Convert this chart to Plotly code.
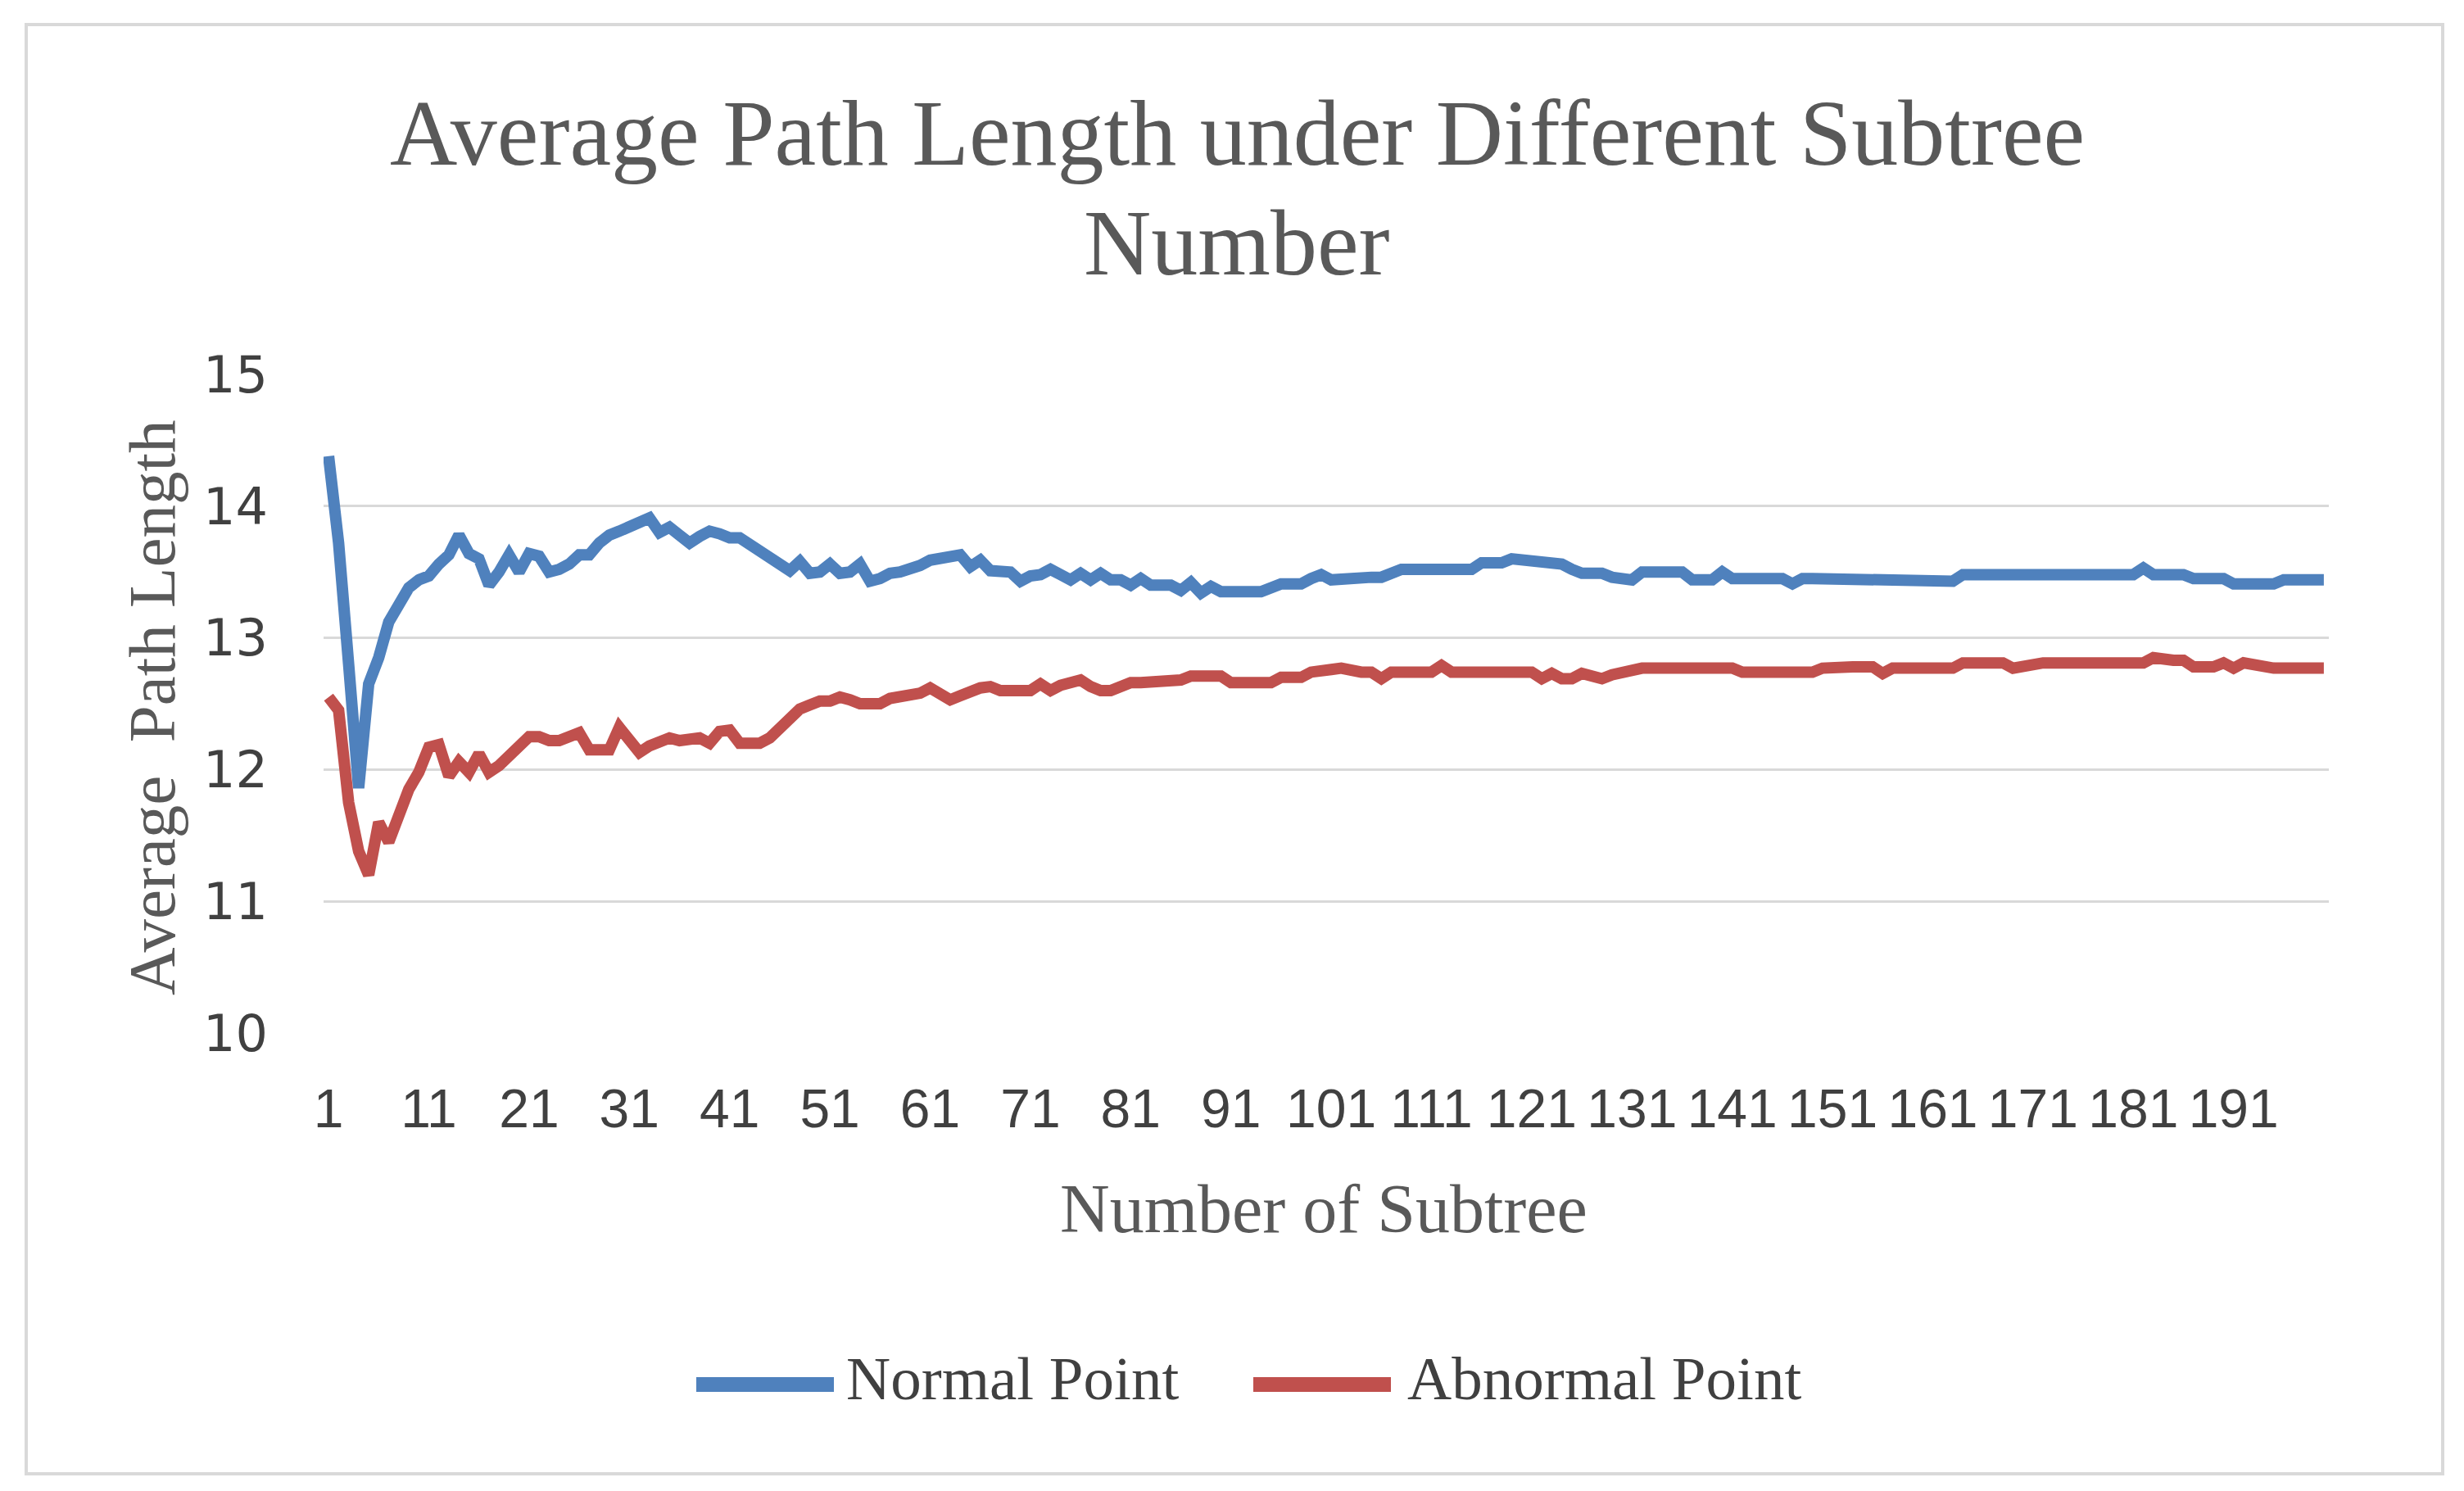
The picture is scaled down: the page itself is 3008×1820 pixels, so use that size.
import plotly.graph_objects as go

# ---------------- data ----------------
subtree_num = list(range(1, 201))

normal_point = [
    14.38, 13.72, 12.80, 11.86, 12.65, 12.85, 13.12, 13.25, 13.38, 13.44,
    13.47, 13.56, 13.63, 13.78, 13.64, 13.60, 13.40, 13.50, 13.63, 13.50,
    13.64, 13.62, 13.50, 13.52, 13.56, 13.63, 13.63, 13.72, 13.78, 13.81,
    13.85, 13.89, 13.91, 13.80, 13.84, 13.78, 13.72, 13.77, 13.81, 13.79,
    13.76, 13.76, 13.71, 13.67, 13.60, 13.55, 13.51, 13.58, 13.49, 13.50,
    13.56, 13.49, 13.50, 13.56, 13.43, 13.45, 13.49, 13.50, 13.52, 13.55,
    13.59, 13.61, 13.62, 13.63, 13.54, 13.59, 13.51, 13.51, 13.50, 13.43,
    13.47, 13.48, 13.52, 13.48, 13.44, 13.49, 13.44, 13.49, 13.44, 13.44,
    13.40, 13.45, 13.40, 13.40, 13.40, 13.36, 13.42, 13.34, 13.39, 13.35,
    13.35, 13.35, 13.35, 13.35, 13.38, 13.41, 13.41, 13.41, 13.45, 13.48,
    13.44, 13.45, 13.46, 13.46, 13.46, 13.46, 13.49, 13.52, 13.52, 13.52,
    13.52, 13.52, 13.52, 13.52, 13.52, 13.57, 13.57, 13.57, 13.60, 13.59,
    13.57, 13.57, 13.57, 13.56, 13.52, 13.49, 13.49, 13.49, 13.46, 13.44,
    13.44, 13.50, 13.50, 13.50, 13.50, 13.50, 13.44, 13.44, 13.44, 13.50,
    13.45, 13.45, 13.45, 13.45, 13.45, 13.45, 13.41, 13.45, 13.45, 13.45,
    13.45, 13.45, 13.45, 13.45, 13.45, 13.43, 13.43, 13.43, 13.43, 13.43,
    13.43, 13.43, 13.43, 13.48, 13.48, 13.48, 13.48, 13.48, 13.48, 13.48,
    13.48, 13.48, 13.48, 13.48, 13.48, 13.48, 13.48, 13.48, 13.48, 13.48,
    13.48, 13.53, 13.48, 13.48, 13.48, 13.48, 13.45, 13.45, 13.45, 13.45,
    13.41, 13.41, 13.41, 13.41, 13.41, 13.44, 13.44, 13.44, 13.44, 13.44,
]

abnormal_point = [
    12.55, 12.45, 11.75, 11.38, 11.20, 11.60, 11.45, 11.68, 11.85, 11.98,
    12.17, 12.19, 11.95, 12.06, 11.98, 12.12, 11.98, 12.03, 12.10, 12.18,
    12.25, 12.25, 12.22, 12.22, 12.25, 12.28, 12.15, 12.15, 12.15, 12.32,
    12.22, 12.13, 12.18, 12.20, 12.24, 12.22, 12.22, 12.24, 12.20, 12.29,
    12.30, 12.20, 12.20, 12.20, 12.24, 12.31, 12.38, 12.46, 12.49, 12.52,
    12.52, 12.55, 12.53, 12.50, 12.50, 12.50, 12.54, 12.55, 12.58, 12.58,
    12.62, 12.57, 12.53, 12.56, 12.60, 12.62, 12.63, 12.60, 12.60, 12.60,
    12.60, 12.65, 12.60, 12.64, 12.65, 12.68, 12.63, 12.60, 12.60, 12.63,
    12.66, 12.66, 12.66, 12.66, 12.66, 12.68, 12.71, 12.71, 12.71, 12.71,
    12.66, 12.66, 12.66, 12.66, 12.66, 12.70, 12.70, 12.70, 12.74, 12.74,
    12.76, 12.77, 12.75, 12.74, 12.74, 12.69, 12.74, 12.74, 12.74, 12.74,
    12.74, 12.79, 12.74, 12.74, 12.74, 12.74, 12.74, 12.74, 12.74, 12.74,
    12.74, 12.69, 12.73, 12.69, 12.69, 12.73, 12.71, 12.69, 12.72, 12.74,
    12.77, 12.77, 12.77, 12.77, 12.77, 12.77, 12.77, 12.77, 12.77, 12.77,
    12.77, 12.74, 12.74, 12.74, 12.74, 12.74, 12.74, 12.74, 12.74, 12.77,
    12.78, 12.78, 12.78, 12.78, 12.78, 12.73, 12.77, 12.77, 12.77, 12.77,
    12.77, 12.77, 12.77, 12.81, 12.81, 12.81, 12.81, 12.81, 12.77, 12.79,
    12.81, 12.81, 12.81, 12.81, 12.81, 12.81, 12.81, 12.81, 12.81, 12.81,
    12.81, 12.81, 12.85, 12.83, 12.83, 12.83, 12.78, 12.78, 12.78, 12.81,
    12.77, 12.81, 12.79, 12.77, 12.77, 12.77, 12.77, 12.77, 12.77, 12.77,
]

x_tick_vals = list(range(1, 200, 10))
x_tick_text = [str(v) for v in x_tick_vals]
y_tick_vals = [10, 11, 12, 13, 14, 15]

series_names = ["Normal Point", "Abnormal Point"]
series_colors = ["#4F81BD", "#C0504D"]

# ---------------- figure ----------------
W, H = 3008, 1820
OFF = 8  # default page margin of the html body
# plot area in screen pixels
SL, SR, ST, SB = 395, 2843, 457, 1261
L, R, T, B = SL - OFF, SR - OFF, ST - OFF, SB - OFF  # in figure pixels

def px(xs):
    return (xs - SL) / (SR - SL)

def py(ys):
    return (SB - ys) / (SB - ST)

text_color = "#595959"
tick_color = "#404040"
serif = "Liberation Serif, Times New Roman, serif"

fig = go.Figure()
for name, vals, col in zip(series_names, [normal_point, abnormal_point], series_colors):
    fig.add_trace(go.Scatter(
        x=subtree_num, y=vals, mode="lines", name=name,
        line=dict(color=col, width=14), showlegend=False,
    ))

fig.update_layout(
    width=W, height=H,
    margin=dict(l=L, r=W - R, t=T, b=H - B, pad=0),
    paper_bgcolor="white", plot_bgcolor="white",
    xaxis=dict(
        range=[0.5, 200.5], tickmode="array", tickvals=x_tick_vals, ticktext=x_tick_text,
        showgrid=False, zeroline=False, showline=False, ticks="",
        tickfont=dict(family="Liberation Sans, Arial, sans-serif", size=66, color=tick_color),
        ticklabelstandoff=48,
    ),
    yaxis=dict(
        range=[10, 15], tickmode="array", tickvals=y_tick_vals,
        showgrid=True, gridcolor="#D9D9D9", gridwidth=3,
        zeroline=False, showline=False, ticks="",
        tickfont=dict(family="DejaVu Sans, sans-serif", size=62, color=tick_color),
        ticklabelstandoff=67,
    ),
)

annotations = [
    dict(text="Average Path Length under Different Subtree", x=px(1510), y=py(163),
         font=dict(family=serif, size=114, color=text_color)),
    dict(text="Number", x=px(1510), y=py(296),
         font=dict(family=serif, size=114, color=text_color)),
    dict(text="Number of Subtree", x=px(1616), y=py(1475),
         font=dict(family=serif, size=84, color=text_color)),
    dict(text="Average  Path Length", x=px(186), y=py(864), textangle=-90,
         font=dict(family=serif, size=81, color=text_color)),
    dict(text=series_names[0], x=px(1031), y=py(1682), xanchor="left",
         font=dict(family=serif, size=75, color=tick_color)),
    dict(text=series_names[1], x=px(1716), y=py(1682), xanchor="left",
         font=dict(family=serif, size=75, color=tick_color)),
]
for a in annotations:
    a.setdefault("xanchor", "center")
    a.update(xref="paper", yref="paper", yanchor="middle", showarrow=False)
    fig.add_annotation(**a)

shapes = [
    dict(type="rect", x0=px(32), x1=px(2982), y0=py(30), y1=py(1799),
         line=dict(color="#D9D9D9", width=4), fillcolor="rgba(0,0,0,0)", layer="below"),
    dict(type="line", x0=px(850), x1=px(1018), y0=py(1690), y1=py(1690),
         line=dict(color=series_colors[0], width=18)),
    dict(type="line", x0=px(1530), x1=px(1698), y0=py(1690), y1=py(1690),
         line=dict(color=series_colors[1], width=18)),
]
for s in shapes:
    s.update(xref="paper", yref="paper")
    fig.add_shape(**s)

fig.write_html("out.html", config={"displayModeBar": False})
